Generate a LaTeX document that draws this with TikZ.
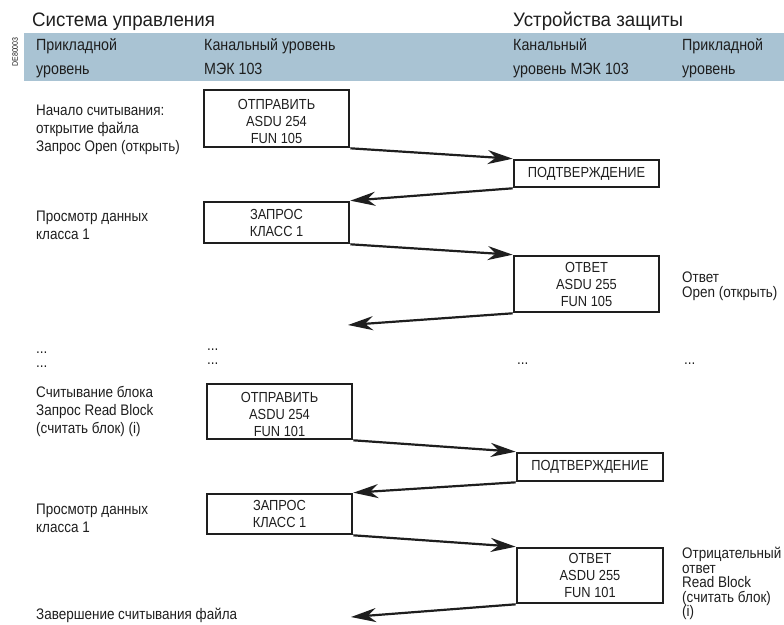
\documentclass[tikz,border=0pt]{standalone}
\usepackage{fontspec}
\setmainfont{Liberation Sans}[FakeStretch=0.88]
\newfontfamily\titlefont{Liberation Sans}[FakeStretch=0.96]
\usetikzlibrary{arrows.meta}
\definecolor{bandcol}{RGB}{169,195,211}
\definecolor{ink}{RGB}{30,30,30}
\newcommand{\lowstrut}{\rule{0pt}{17pt}}
\tikzset{
  msgbox/.style={draw=ink, line width=2.6pt, minimum width=145pt, align=center, inner sep=0pt,
     text=ink, font=\fontsize{14.6}{17}\selectfont},
  lbl/.style={anchor=north west, align=left, inner sep=0pt, text=ink, font=\fontsize{15.3}{18}\selectfont},
  dotlbl/.style={anchor=north west, align=left, inner sep=0pt, text=ink, font=\fontsize{15.3}{14}\selectfont},
  rlbl/.style={anchor=north west, align=left, inner sep=0pt, text=ink, font=\fontsize{15.3}{14.5}\selectfont},
  hdr/.style={anchor=north west, align=left, inner sep=0pt, text=ink, font=\fontsize{16.2}{24}\selectfont},
  ttl/.style={anchor=base west, inner sep=0pt, text=ink, font=\titlefont\fontsize{19.5}{22}\selectfont},
  msgarrow/.style={draw=ink, line width=2.2pt, -{Stealth[length=25pt,width=14pt,inset=8pt]}},
}
\begin{document}
\begin{tikzpicture}[x=1pt,y=-1pt]
\useasboundingbox (0,0) rectangle (784,624);
\fill[bandcol] (24,33) rectangle (784,81);
% titles
\node[ttl] (t1) at (32,26) {Система управления};
\node[ttl] (t2) at (513,26) {Устройства защиты};
\node[rotate=90, inner sep=0pt, text=ink, font=\fontsize{8}{8}\selectfont] (code) at (15,52) {DE80003};
% header
\node[hdr] (h1) at (36,38) {Прикладной\\уровень};
\node[hdr] (h2) at (204,38) {Канальный уровень\\МЭК 103};
\node[hdr] (h3) at (513,38) {Канальный\\уровень МЭК 103};
\node[hdr] (h4) at (682,38) {Прикладной\\уровень};
% left labels
\node[lbl] (l1) at (36,105) {Начало считывания:\\открытие файла\\Запрос Open (открыть)};
\node[lbl] (l2) at (36,211) {Просмотр данных\\класса 1};
\node[lbl] (l3) at (36,386) {Считывание блока\\Запрос Read Block\\(считать блок) (i)};
\node[lbl] (l4) at (36,504) {Просмотр данных\\класса 1};
\node[lbl] (l5) at (36,608) {Завершение считывания файла};
% right labels
\node[rlbl] (r1) at (682,272) {Ответ\\Open (открыть)};
\node[rlbl] (r2) at (682,547) {Отрицательный\\ответ\\Read Block\\(считать блок)\\(i)};
% dots
\node[dotlbl] (d1) at (36,352) {...\\...};
\node[dotlbl] (d2) at (207,349) {...\\...};
\node[dotlbl] (d3) at (517,363) {...};
\node[dotlbl] (d4) at (684,363) {...};
% boxes
\node[msgbox, minimum height=57pt] (b1) at (276.5,118.5) {\lowstrut ОТПРАВИТЬ\\ASDU 254\\FUN 105};
\node[msgbox, minimum height=27pt] (b2) at (586.5,173.5) {ПОДТВЕРЖДЕНИЕ};
\node[msgbox, minimum height=41pt] (b3) at (276.5,222.5) {ЗАПРОС\\КЛАСС 1};
\node[msgbox, minimum height=56pt] (b4) at (586.5,284) {ОТВЕТ\\ASDU 255\\FUN 105};
\node[msgbox, minimum height=55pt] (b5) at (279.5,411.5) {\lowstrut ОТПРАВИТЬ\\ASDU 254\\FUN 101};
\node[msgbox, minimum height=28pt, minimum width=146pt] (b6) at (590,467) {ПОДТВЕРЖДЕНИЕ};
\node[msgbox, minimum height=40pt] (b7) at (279.5,514) {ЗАПРОС\\КЛАСС 1};
\node[msgbox, minimum height=55pt, minimum width=146pt] (b8) at (590,575.5) {ОТВЕТ\\ASDU 255\\FUN 101};
\coordinate (e1) at (348,325);
\coordinate (e2) at (351,617);
% connectors
\draw[msgarrow] (b1.south east) -- (b2.north west);
\draw[msgarrow] (b2.south west) -- (b3.north east);
\draw[msgarrow] (b3.south east) -- (b4.north west);
\draw[msgarrow] (b4.south west) -- (e1);
\draw[msgarrow] (b5.south east) -- (b6.north west);
\draw[msgarrow] (b6.south west) -- (b7.north east);
\draw[msgarrow] (b7.south east) -- (b8.north west);
\draw[msgarrow] (b8.south west) -- (e2);
\end{tikzpicture}
\end{document}
